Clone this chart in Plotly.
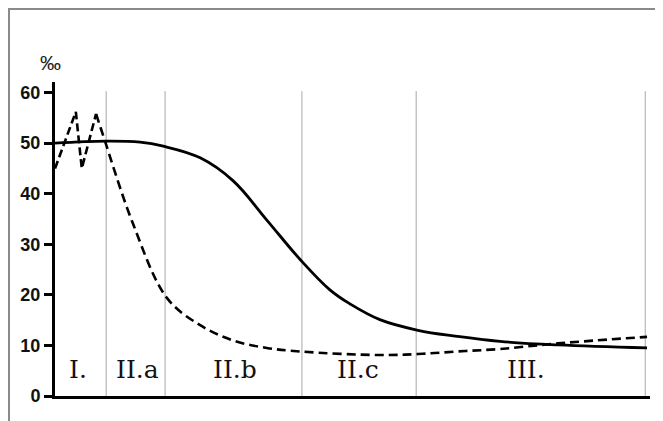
import plotly.graph_objects as go

# Data (x in arbitrary time units 0-100, y in per mille)
solid_x = [0, 8.6, 14.3, 18.2, 24.4, 29.9, 35.6, 41.2, 46.2, 49.6, 54.6, 61.0, 67.6, 74.8, 84.5, 99.5]
solid_y = [50, 50.4, 50.2, 49.4, 47.1, 42.6, 34.8, 27.0, 21.0, 18.2, 15.1, 13.0, 11.8, 10.8, 10.1, 9.5]

zig_x = [0, 3.5, 4.5, 6.9]
zig_y = [45, 56.2, 45, 55.8]

dash_x = [6.9, 8.1, 13.1, 18.8, 24.4, 29.9, 35.6, 41.2, 54.6, 61.0, 67.6, 74.8, 84.5, 99.5]
dash_y = [55.8, 51.5, 34.1, 19.4, 14.0, 11.0, 9.5, 8.8, 8.1, 8.3, 8.8, 9.3, 10.4, 11.7]

boundaries = [8.6, 18.5, 41.5, 60.7, 99.2]
phase_labels = ["I.", "II.a", "II.b", "II.c", "III."]
phase_label_x = [3.9, 13.8, 30.3, 50.9, 79.2]
phase_label_y = 5.3

y_ticks = [0, 10, 20, 30, 40, 50, 60]
y_unit = "‰"

fig = go.Figure()

fig.add_trace(go.Scatter(x=solid_x, y=solid_y, mode="lines",
                         line=dict(color="black", width=2.8, shape="spline", smoothing=1.1),
                         showlegend=False, hoverinfo="skip"))
fig.add_trace(go.Scatter(x=zig_x, y=zig_y, mode="lines",
                         line=dict(color="black", width=2.6, dash="8px,4px"),
                         showlegend=False, hoverinfo="skip"))
fig.add_trace(go.Scatter(x=dash_x, y=dash_y, mode="lines",
                         line=dict(color="black", width=2.6, dash="9px,5px", shape="spline", smoothing=1.0),
                         showlegend=False, hoverinfo="skip"))

# page has an 8px body offset: figure coordinates below are page minus 8
L, T, PW, PH = 47, 74, 595, 314

shapes = []
for b in boundaries:
    shapes.append(dict(type="line", xref="x", yref="y", x0=b, x1=b, y0=0, y1=60.3,
                       line=dict(color="#a8a8a8", width=1), layer="below"))

# outer frame
shapes.append(dict(type="rect", xref="paper", yref="paper",
                   x0=(1 - L) / PW, x1=(650 - L) / PW,
                   y0=(T + PH - 440) / PH, y1=(T + PH - 1) / PH,
                   line=dict(color="#8a8a8a", width=2), fillcolor="rgba(0,0,0,0)"))

annotations = []
for lab, lx in zip(phase_labels, phase_label_x):
    annotations.append(dict(x=lx, y=phase_label_y, xref="x", yref="y", text=lab,
                            showarrow=False, font=dict(family="DejaVu Serif", size=25, color="#111")))
annotations.append(dict(x=(42 - L) / PW, y=(T + PH - 55) / PH, xref="paper", yref="paper",
                        text=y_unit, showarrow=False, xanchor="center", yanchor="middle",
                        font=dict(family="Liberation Sans", size=21, color="#222")))

fig.update_layout(
    width=655, height=413,
    margin=dict(l=L, r=655 - L - PW, t=T, b=413 - T - PH),
    paper_bgcolor="white", plot_bgcolor="white",
    shapes=shapes, annotations=annotations,
    xaxis=dict(range=[0, 100], showgrid=False, zeroline=False, showticklabels=False,
               showline=True, linecolor="black", linewidth=3, ticks=""),
    yaxis=dict(range=[0, 62.1], showgrid=False, zeroline=False,
               tickmode="array", tickvals=y_ticks, ticktext=[str(t) for t in y_ticks],
               ticks="outside", ticklen=8, tickwidth=2.5, tickcolor="black",
               showline=True, linecolor="black", linewidth=3,
               tickfont=dict(family="Liberation Sans", size=18, color="#111", weight="bold")),
    font=dict(family="Liberation Sans"),
)

fig.write_html("out.html")
